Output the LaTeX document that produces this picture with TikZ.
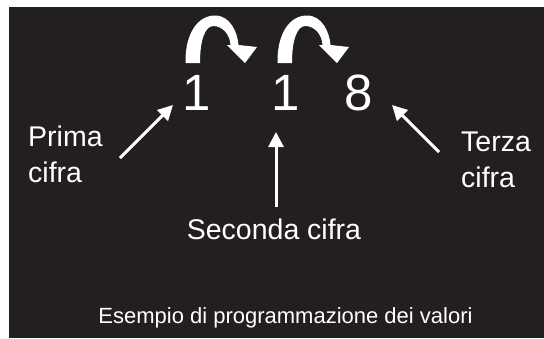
\documentclass[tikz,border=0pt]{standalone}
\usepackage{fontspec}
\setmainfont{Liberation Sans}
\usetikzlibrary{arrows.meta}
\definecolor{bg}{HTML}{231F20}
\tikzset{
  digit/.style={text=white, inner sep=0pt, anchor=base, font=\fontsize{51}{60}\selectfont},
  lab/.style={text=white, inner sep=0pt, font=\fontsize{28.5}{36}\selectfont},
  captiontext/.style={text=white, inner sep=0pt, anchor=base, font=\fontsize{22}{26}\selectfont},
  pointer/.style={draw=white, line width=3pt, -{Triangle[length=15pt,width=15pt]}},
  bendarrow/.style={fill=white, draw=none}
}
\begin{document}
\begin{tikzpicture}[x=1pt, y=-1pt]
\useasboundingbox (0,0) rectangle (544,338);
\fill[bg] (9,7) rectangle (544,338);
% digits
\node[digit] (d1) at (197,110) {1};
\node[digit] (d2) at (285.5,110) {1};
\node[digit] (d3) at (358.5,110) {8};
% labels (base = last line)
\node[lab, anchor=base west, align=left] (prima) at (28,182) {Prima\\cifra};
\node[lab, anchor=base west, align=left] (terza) at (461,187) {Terza\\cifra};
\node[lab, anchor=base] (seconda) at (274,239) {Seconda cifra};
\node[captiontext] (esempio) at (285.5,323) {Esempio di programmazione dei valori};
% pointer ends
\coordinate (p1s) at (120,158);
\coordinate (p1e) at (173,105);
\coordinate (p2s) at (276,207);
\coordinate (p2e) at (276,132);
\coordinate (p3s) at (439,152);
\coordinate (p3e) at (392,105);
\draw[pointer] (p1s) -- (p1e);
\draw[pointer] (p2s) -- (p2e);
\draw[pointer] (p3s) -- (p3e);
% curved arrows
\foreach \dx in {0,92}{
  \begin{scope}[xshift=\dx pt]
  \fill[bendarrow] (185.5,63) .. controls (185,33) and (198,15.5) .. (215,15.5)
    .. controls (230,15.5) and (237.5,32) .. (238.5,45)
    -- (257,47) -- (245,63) -- (227,45) -- (230.5,45)
    .. controls (230,34) and (222,26) .. (213.5,26)
    .. controls (205,26) and (200,40) .. (200,63) -- cycle;
  \end{scope}
}
\end{tikzpicture}
\end{document}
